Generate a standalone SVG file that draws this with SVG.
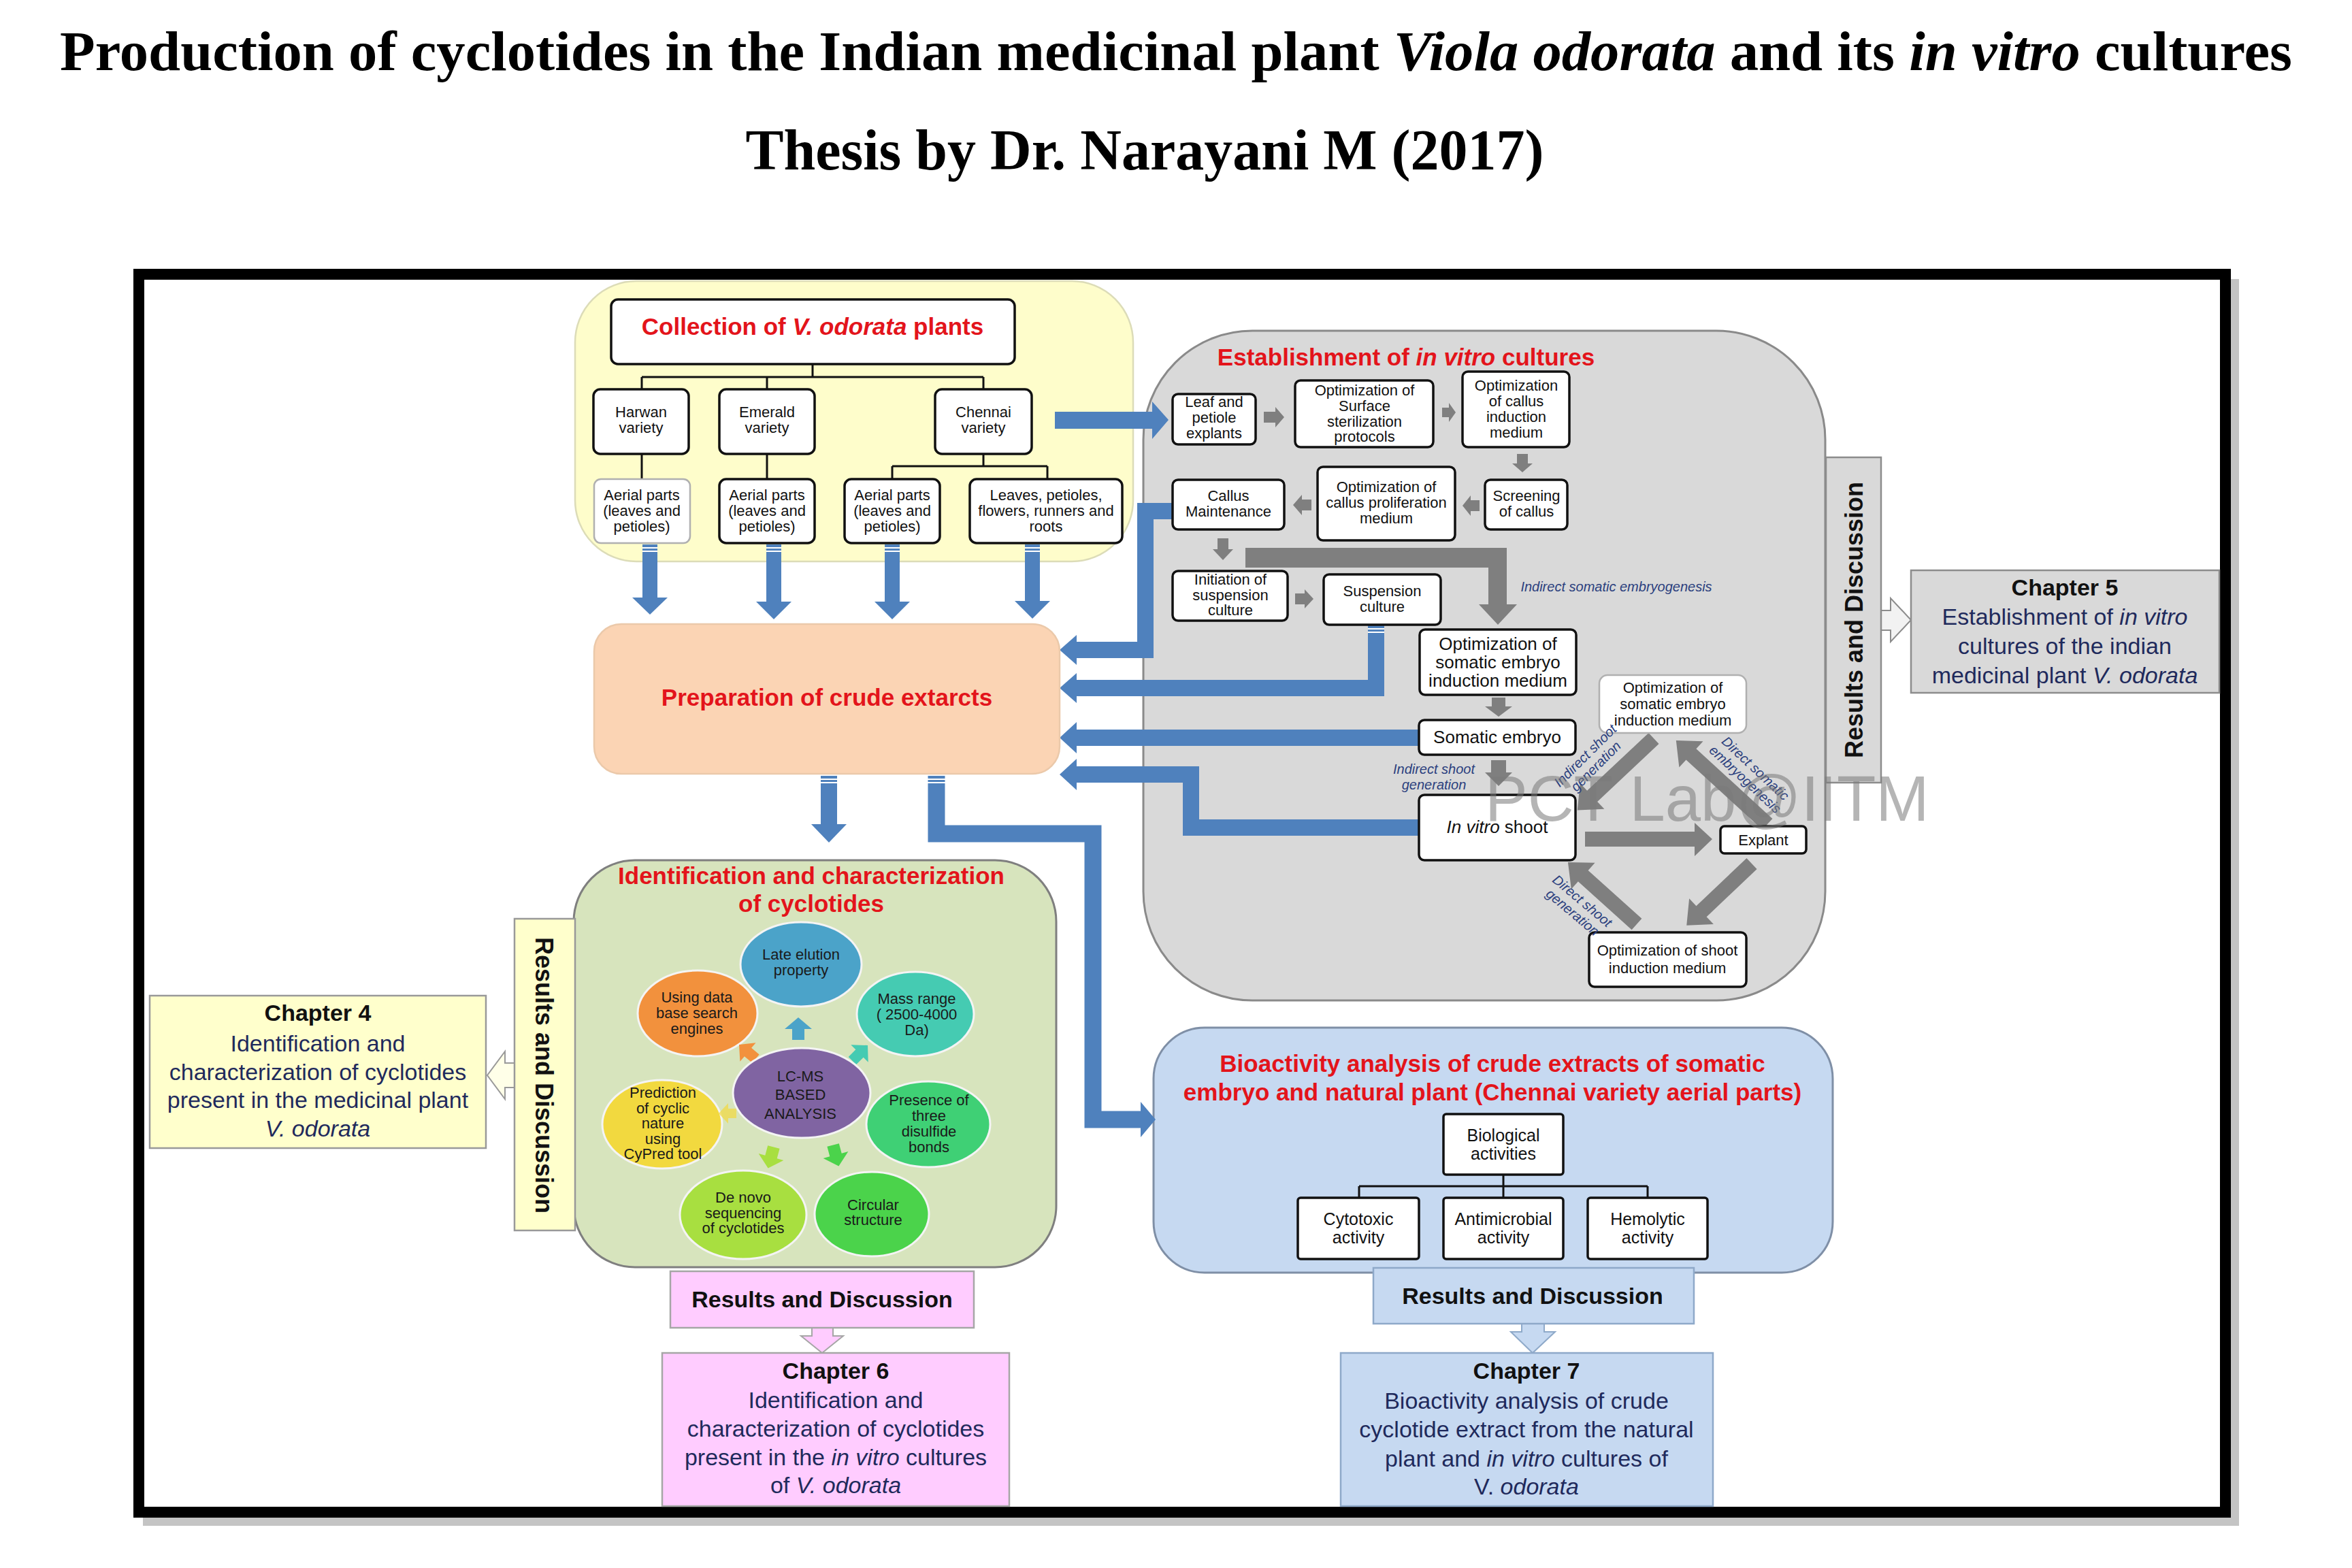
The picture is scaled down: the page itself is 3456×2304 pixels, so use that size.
<svg xmlns="http://www.w3.org/2000/svg" width="3456" height="2304" viewBox="0 0 3456 2304">
<defs>
<style>
text{font-family:"Liberation Sans",Arial,sans-serif}
.ttl{font-family:"Liberation Serif","Times New Roman",serif;font-weight:bold;fill:#000;text-anchor:middle}
.it{font-style:italic}
.hd{font-size:35px;font-weight:bold;fill:#E3141B;text-anchor:middle}
.bx{fill:#fff;stroke:#111;stroke-width:3.5}
.bxl{fill:#fff;stroke:#b0b0b0;stroke-width:2.5}
.t22{font-size:22px;fill:#111;text-anchor:middle}
.t25{font-size:25px;fill:#111;text-anchor:middle}
.t26{font-size:26px;fill:#111;text-anchor:middle}
.lbl{font-size:20px;font-style:italic;fill:#2B3F7E;text-anchor:middle}
.ch{font-size:34px;fill:#1F2A5C;text-anchor:middle}
.chh{font-size:34px;font-weight:bold;fill:#111;text-anchor:middle}
.rd{font-size:36px;font-weight:bold;fill:#111;text-anchor:middle}
.blue{fill:#4F81BD}
.bline{fill:none;stroke:#4F81BD;stroke-width:24;stroke-linejoin:miter}
.gray{fill:#7F7F7F}
.cn{fill:none;stroke:#111;stroke-width:3}
.el{font-size:22px;fill:#1a1a1a;text-anchor:middle}
.strip{stroke:#fff;stroke-width:2}
.elp{stroke:#f4f4f4;stroke-width:3}
</style>
</defs>
<rect x="0" y="0" width="3456" height="2304" fill="#fff"/>

<g id="title">
<text class="ttl" x="1728" y="103" font-size="82" textLength="3280" lengthAdjust="spacingAndGlyphs">Production of cyclotides in the Indian medicinal plant <tspan class="it">Viola odorata</tspan> and its <tspan class="it">in vitro</tspan> cultures</text>
<text class="ttl" x="1682" y="249" font-size="84">Thesis by Dr. Narayani M (2017)</text>
</g>

<g id="frame">
<rect x="3278" y="410" width="12" height="1832" fill="#c4c4c4"/>
<rect x="210" y="2230" width="3080" height="12" fill="#c4c4c4"/>
<rect x="204" y="403" width="3066" height="1819" fill="#fff" stroke="#000" stroke-width="16"/>
</g>

<!-- Panels -->
<g id="panel-collection">
<rect x="845" y="413" width="820" height="412" rx="90" fill="#FEFDCB" stroke="#DCDCB8" stroke-width="2.5"/>
</g>
<g id="panel-invitro">
<rect x="1680" y="486" width="1002" height="984" rx="160" fill="#D9D9D9" stroke="#8A8A8A" stroke-width="3"/>
<text class="hd" x="2066" y="537">Establishment of <tspan class="it">in vitro</tspan> cultures</text>
</g>
<g id="panel-identification">
<rect x="843" y="1264" width="709" height="598" rx="90" fill="#D7E4BD" stroke="#7F7F7F" stroke-width="3"/>
<text class="hd" x="1192" y="1299">Identification and characterization</text>
<text class="hd" x="1192" y="1340">of cyclotides</text>
</g>
<g id="panel-bioactivity">
<rect x="1695" y="1510" width="998" height="360" rx="75" fill="#C6D9F1" stroke="#7F8FA6" stroke-width="3"/>
<text class="hd" x="2193" y="1575">Bioactivity analysis of crude extracts of somatic</text>
<text class="hd" x="2193" y="1617">embryo and natural plant (Chennai variety aerial parts)</text>
</g>

<!-- Connectors -->
<g id="connectors">
<!-- tree lines -->
<path class="cn" d="M1194,535 V554 M943,554 H1445 M943,554 V572 M1127,554 V572 M1445,554 V572 M943,667 V704 M1127,667 V704 M1445,667 V685 M1311,685 H1539 M1311,685 V704 M1539,685 V704"/>
<path class="cn" d="M2209,1726 V1743 M1997,1743 H2421 M1997,1743 V1760 M2209,1743 V1760 M2421,1743 V1760"/>

<!-- blue down arrows from plant parts -->
<polygon class="blue" points="944,800 966,800 966,878 981,878 955,903 929,878 944,878"/>
<polygon class="blue" points="1126,800 1148,800 1148,884 1163,884 1137,910 1111,884 1126,884"/>
<polygon class="blue" points="1300,800 1322,800 1322,884 1337,884 1311,910 1285,884 1300,884"/>
<polygon class="blue" points="1506,800 1528,800 1528,883 1543,883 1517,909 1491,883 1506,883"/>
<path class="strip" d="M944,805 H966 M944,810 H966 M1126,805 H1148 M1126,810 H1148 M1300,805 H1322 M1300,810 H1322 M1506,805 H1528 M1506,810 H1528"/>

<!-- Chennai to explants -->
<polygon class="blue" points="1550,605 1693,605 1693,590 1717,617 1693,645 1693,630 1550,630"/>

<!-- arrows into crude extracts -->
<polyline class="bline" points="1723,751 1683,751 1683,955 1580,955"/>
<polygon class="blue" points="1582,933 1557,955 1582,977"/>
<polyline class="bline" points="2022,919 2022,1011 1580,1011"/>
<polygon class="blue" points="1582,989 1557,1011 1582,1033"/>
<path class="strip" d="M2010,924 H2034 M2010,929 H2034"/>
<polyline class="bline" points="2085,1084 1580,1084"/>
<polygon class="blue" points="1582,1061 1557,1084 1582,1107"/>
<polyline class="bline" points="2085,1216 1750,1216 1750,1138 1580,1138"/>
<polygon class="blue" points="1582,1115 1557,1138 1582,1161"/>

<!-- arrows out of crude extracts -->
<polyline class="bline" points="1218,1140 1218,1213"/>
<polygon class="blue" points="1192,1211 1244,1211 1218,1238"/>
<polyline class="bline" points="1376,1140 1376,1225 1606,1225 1606,1645 1676,1645" style="stroke-width:25"/>
<polygon class="blue" points="1676,1619 1698,1645 1676,1671"/>
<path class="strip" d="M1206,1145 H1230 M1206,1150 H1230 M1363,1145 H1389 M1363,1150 H1389"/>

<!-- gray process arrows -->
<polygon class="gray" points="1857,605 1874,605 1874,598 1887,613 1874,628 1874,621 1857,621"/>
<polygon class="gray" points="2119,599 2129,599 2129,592 2139,606 2129,620 2129,613 2119,613"/>
<polygon class="gray" points="2229,667 2245,667 2245,681 2252,681 2237,694 2222,681 2229,681"/>
<polygon class="gray" points="2174,735 2161,735 2161,728 2149,743 2161,758 2161,751 2174,751"/>
<polygon class="gray" points="1927,734 1913,734 1913,727 1900,742 1913,757 1913,750 1927,750"/>
<polygon class="gray" points="1789,791 1805,791 1805,807 1812,807 1797,823 1782,807 1789,807"/>
<polygon class="gray" points="1903,872 1917,872 1917,866 1930,880 1917,894 1917,888 1903,888"/>
<polygon class="gray" points="1830,805 2214,805 2214,888 2229,888 2201,918 2173,888 2187,888 2187,834 1830,834"/>
<polygon class="gray" points="2192,1025 2212,1025 2212,1038 2222,1038 2202,1053 2182,1038 2192,1038"/>
<polygon class="gray" points="2191,1117 2213,1117 2213,1135 2222,1135 2202,1155 2182,1135 2191,1135"/>
<polygon class="gray" points="2329,1222 2490,1222 2490,1209 2516,1233 2490,1258 2490,1244 2329,1244"/>
<polygon class="gray" transform="translate(2430,1085) rotate(136.8)" points="0,-11 124,-11 124,-26 154,0 124,26 124,11 0,11"/>
<polygon class="gray" transform="translate(2597,1211) rotate(-137.5)" points="0,-11 152,-11 152,-26 182,0 152,26 152,11 0,11"/>
<polygon class="gray" transform="translate(2574,1269) rotate(136.5)" points="0,-11 102,-11 102,-26 132,0 102,26 102,11 0,11"/>
<polygon class="gray" transform="translate(2405,1358) rotate(-138)" points="0,-11 106,-11 106,-26 136,0 106,26 106,11 0,11"/>

<!-- results arrows -->
<polygon points="2764,897 2778,897 2778,879 2808,911 2778,943 2778,926 2764,926" fill="#F2F2F2" stroke="#8C8C8C" stroke-width="2"/>
<polygon points="756,1562 742,1562 742,1545 716,1580 742,1615 742,1598 756,1598" fill="#FFFFE8" stroke="#999" stroke-width="2"/>
<polygon points="1193,1951 1224,1951 1224,1963 1239,1963 1208,1988 1177,1963 1193,1963" fill="#FFCCFF" stroke="#A6A6A6" stroke-width="2"/>
<polygon points="2236,1945 2269,1945 2269,1957 2285,1957 2252,1988 2220,1957 2236,1957" fill="#C6D9F1" stroke="#8EA9C9" stroke-width="2"/>
</g>

<!-- Collection nodes -->
<g id="collection">
<rect class="bx" x="898" y="440" width="593" height="95" rx="10"/>
<text class="hd" x="1194" y="492">Collection of <tspan class="it">V. odorata</tspan> plants</text>
</g>
<g id="harwan"><rect class="bx" x="872" y="572" width="140" height="95" rx="10"/>
<text class="t22" x="942" y="613">Harwan</text><text class="t22" x="942" y="636">variety</text></g>
<g id="emerald"><rect class="bx" x="1057" y="572" width="140" height="95" rx="10"/>
<text class="t22" x="1127" y="613">Emerald</text><text class="t22" x="1127" y="636">variety</text></g>
<g id="chennai"><rect class="bx" x="1374" y="572" width="142" height="95" rx="10"/>
<text class="t22" x="1445" y="613">Chennai</text><text class="t22" x="1445" y="636">variety</text></g>
<g id="aerial1"><rect class="bxl" x="873" y="704" width="141" height="94" rx="10"/>
<text class="t22" x="943" y="735">Aerial parts</text><text class="t22" x="943" y="758">(leaves and</text><text class="t22" x="943" y="781">petioles)</text></g>
<g id="aerial2"><rect class="bx" x="1057" y="704" width="140" height="94" rx="10"/>
<text class="t22" x="1127" y="735">Aerial parts</text><text class="t22" x="1127" y="758">(leaves and</text><text class="t22" x="1127" y="781">petioles)</text></g>
<g id="aerial3"><rect class="bx" x="1241" y="704" width="140" height="94" rx="10"/>
<text class="t22" x="1311" y="735">Aerial parts</text><text class="t22" x="1311" y="758">(leaves and</text><text class="t22" x="1311" y="781">petioles)</text></g>
<g id="leaves"><rect class="bx" x="1425" y="704" width="224" height="94" rx="10"/>
<text class="t22" x="1537" y="735">Leaves, petioles,</text><text class="t22" x="1537" y="758">flowers, runners and</text><text class="t22" x="1537" y="781">roots</text></g>

<!-- Crude extracts -->
<g id="crude">
<rect x="873" y="917" width="684" height="220" rx="40" fill="#FBD4B4" stroke="#EBC9AA" stroke-width="2.5"/>
<text class="hd" x="1215" y="1037">Preparation of crude extarcts</text>
</g>

<!-- In vitro nodes -->
<g id="leaf-explants"><rect class="bx" x="1723" y="579" width="122" height="74" rx="8"/>
<text class="t22" x="1784" y="598">Leaf and</text><text class="t22" x="1784" y="621">petiole</text><text class="t22" x="1784" y="644">explants</text></g>
<g id="surface"><rect class="bx" x="1903" y="559" width="203" height="98" rx="8"/>
<text class="t22" x="2005" y="581">Optimization of</text><text class="t22" x="2005" y="604">Surface</text><text class="t22" x="2005" y="627">sterilization</text><text class="t22" x="2005" y="649">protocols</text></g>
<g id="callus-induction"><rect class="bx" x="2149" y="546" width="157" height="111" rx="8"/>
<text class="t22" x="2228" y="574">Optimization</text><text class="t22" x="2228" y="597">of callus</text><text class="t22" x="2228" y="620">induction</text><text class="t22" x="2228" y="643">medium</text></g>
<g id="screening"><rect class="bx" x="2182" y="705" width="121" height="73" rx="8"/>
<text class="t22" x="2243" y="736">Screening</text><text class="t22" x="2243" y="759">of callus</text></g>
<g id="proliferation"><rect class="bx" x="1936" y="686" width="202" height="108" rx="8"/>
<text class="t22" x="2037" y="723">Optimization of</text><text class="t22" x="2037" y="746">callus proliferation</text><text class="t22" x="2037" y="769">medium</text></g>
<g id="maintenance"><rect class="bx" x="1723" y="705" width="164" height="73" rx="8"/>
<text class="t22" x="1805" y="736">Callus</text><text class="t22" x="1805" y="759">Maintenance</text></g>
<g id="initiation"><rect class="bx" x="1723" y="839" width="169" height="73" rx="8"/>
<text class="t22" x="1808" y="859">Initiation of</text><text class="t22" x="1808" y="882">suspension</text><text class="t22" x="1808" y="904">culture</text></g>
<g id="suspension"><rect class="bx" x="1945" y="844" width="172" height="74" rx="8"/>
<text class="t22" x="2031" y="876">Suspension</text><text class="t22" x="2031" y="899">culture</text></g>
<text class="lbl" x="2375" y="869" font-size="22">Indirect somatic embryogenesis</text>
<g id="se-induction"><rect class="bx" x="2086" y="925" width="230" height="96" rx="8"/>
<text class="t26" x="2201" y="955">Optimization of</text><text class="t26" x="2201" y="982">somatic embryo</text><text class="t26" x="2201" y="1009">induction medium</text></g>
<g id="somatic-embryo"><rect class="bx" x="2085" y="1058" width="230" height="51" rx="8"/>
<text class="t26" x="2200" y="1092">Somatic embryo</text></g>
<text class="lbl" x="2107" y="1137">Indirect shoot</text>
<text class="lbl" x="2107" y="1160">generation</text>
<g id="in-vitro-shoot"><rect class="bx" x="2085" y="1168" width="230" height="96" rx="8"/>
<text class="t26" x="2200" y="1224"><tspan class="it">In vitro</tspan> shoot</text></g>
<g id="se-induction-2"><rect class="bxl" x="2350" y="992" width="216" height="85" rx="12"/>
<text class="t22" x="2458" y="1018">Optimization of</text><text class="t22" x="2458" y="1042">somatic embryo</text><text class="t22" x="2458" y="1066">induction medium</text></g>
<g id="explant"><rect class="bx" x="2528" y="1214" width="126" height="40" rx="6"/>
<text class="t22" x="2591" y="1242" font-size="23">Explant</text></g>
<g id="shoot-induction"><rect class="bx" x="2335" y="1370" width="231" height="80" rx="8"/>
<text class="t22" x="2450" y="1404">Optimization of shoot</text><text class="t22" x="2450" y="1430">induction medium</text></g>
<g transform="translate(2337,1118) rotate(-45)"><text class="lbl" x="0" y="-4">Indirect shoot</text><text class="lbl" x="0" y="18">generation</text></g>
<g transform="translate(2572,1137) rotate(43)"><text class="lbl" x="0" y="-4">Direct somatic</text><text class="lbl" x="0" y="18">embryogenesis</text></g>
<g transform="translate(2318,1332) rotate(40)"><text class="lbl" x="0" y="-4">Direct shoot</text><text class="lbl" x="0" y="18">generation</text></g>

<!-- Results / chapter 5 -->
<g id="results-invitro">
<rect x="2683" y="672" width="81" height="478" fill="#D9D9D9" stroke="#8C8C8C" stroke-width="2.5"/>
<text class="rd" transform="translate(2737,911) rotate(-90)">Results and Discussion</text>
</g>
<g id="chapter5">
<rect x="2808" y="838" width="453" height="180" fill="#D9D9D9" stroke="#8C8C8C" stroke-width="2.5"/>
<text class="chh" x="3034" y="875">Chapter 5</text>
<text class="ch" x="3034" y="918">Establishment of <tspan class="it">in vitro</tspan></text>
<text class="ch" x="3034" y="961">cultures of the indian</text>
<text class="ch" x="3034" y="1004">medicinal plant <tspan class="it">V. odorata</tspan></text>
</g>

<!-- Identification ellipses -->
<g id="ellipses">
<g id="late-elution"><ellipse class="elp" cx="1177" cy="1417" rx="89" ry="62" fill="#4BA3C9"/>
<text class="el" x="1177" y="1410">Late elution</text><text class="el" x="1177" y="1433">property</text></g>
<g id="database"><ellipse class="elp" cx="1025" cy="1489" rx="88" ry="63" fill="#F2913D"/>
<text class="el" x="1024" y="1473">Using data</text><text class="el" x="1024" y="1496">base search</text><text class="el" x="1024" y="1519">engines</text></g>
<g id="mass-range"><ellipse class="elp" cx="1345" cy="1490" rx="86" ry="62" fill="#45CBB2"/>
<text class="el" x="1347" y="1475">Mass range</text><text class="el" x="1347" y="1498">( 2500-4000</text><text class="el" x="1347" y="1521">Da)</text></g>
<g id="prediction"><ellipse class="elp" cx="973" cy="1652" rx="88" ry="65" fill="#F2D93F"/>
<text class="el" x="974" y="1613" font-size="21">Prediction</text><text class="el" x="974" y="1636" font-size="21">of cyclic</text><text class="el" x="974" y="1658" font-size="21">nature</text><text class="el" x="974" y="1681" font-size="21">using</text><text class="el" x="974" y="1703" font-size="21">CyPred tool</text></g>
<g id="disulfide"><ellipse class="elp" cx="1364" cy="1652" rx="91" ry="63" fill="#3FD075"/>
<text class="el" x="1365" y="1624">Presence of</text><text class="el" x="1365" y="1647">three</text><text class="el" x="1365" y="1670">disulfide</text><text class="el" x="1365" y="1693">bonds</text></g>
<g id="de-novo"><ellipse class="elp" cx="1092" cy="1785" rx="93" ry="65" fill="#A8DF40"/>
<text class="el" x="1092" y="1767">De novo</text><text class="el" x="1092" y="1790">sequencing</text><text class="el" x="1092" y="1812">of cyclotides</text></g>
<g id="circular"><ellipse class="elp" cx="1281" cy="1784" rx="84" ry="62" fill="#4BD34B"/>
<text class="el" x="1283" y="1778">Circular</text><text class="el" x="1283" y="1800">structure</text></g>
<polygon transform="translate(1173,1512)" points="0,-17 20,0 9,0 9,16 -9,16 -9,0 -20,0" fill="#4BA3C9"/>
<polygon transform="translate(1099,1546) rotate(-50)" points="0,-17 18,0 8,0 8,15 -8,15 -8,0 -18,0" fill="#F2913D"/>
<polygon transform="translate(1263,1548) rotate(45)" points="0,-17 18,0 8,0 8,15 -8,15 -8,0 -18,0" fill="#45CBB2"/>
<polygon transform="translate(1070,1636) rotate(-90)" points="0,-14 15,0 7,0 7,12 -7,12 -7,0 -15,0" fill="#F2D93F" opacity="0.7"/>
<polygon transform="translate(1133,1700) rotate(195)" points="0,-17 19,0 9,0 9,15 -9,15 -9,0 -19,0" fill="#A8DF40"/>
<polygon transform="translate(1228,1697) rotate(165)" points="0,-17 19,0 9,0 9,15 -9,15 -9,0 -19,0" fill="#4BD34B"/>
<g id="lcms"><ellipse class="elp" cx="1178" cy="1606" rx="101" ry="66" fill="#8064A2"/>
<text class="el" x="1176" y="1589" font-size="27">LC-MS</text><text class="el" x="1176" y="1616" font-size="27">BASED</text><text class="el" x="1176" y="1644" font-size="27">ANALYSIS</text></g>
</g>

<!-- Results / chapter 4 -->
<g id="results-ident">
<rect x="756" y="1350" width="89" height="458" fill="#FFFFCC" stroke="#999" stroke-width="2.5"/>
<text class="rd" transform="translate(787,1580) rotate(90)">Results and Discussion</text>
</g>
<g id="chapter4">
<rect x="220" y="1463" width="494" height="224" fill="#FFFFCC" stroke="#999" stroke-width="2.5"/>
<text class="chh" x="467" y="1500">Chapter 4</text>
<text class="ch" x="467" y="1545">Identification and</text>
<text class="ch" x="467" y="1587">characterization of  cyclotides</text>
<text class="ch" x="467" y="1628">present in the medicinal plant</text>
<text class="ch it" x="467" y="1670">V. odorata</text>
</g>

<!-- Results / chapter 6 -->
<g id="results-ch6">
<rect x="985" y="1868" width="446" height="83" fill="#FFCCFF" stroke="#A6A6A6" stroke-width="2.5"/>
<text class="chh" x="1208" y="1921" font-size="35">Results and Discussion</text>
</g>
<g id="chapter6">
<rect x="973" y="1988" width="510" height="225" fill="#FFCCFF" stroke="#A6A6A6" stroke-width="2.5"/>
<text class="chh" x="1228" y="2026">Chapter 6</text>
<text class="ch" x="1228" y="2069">Identification and</text>
<text class="ch" x="1228" y="2111">characterization of  cyclotides</text>
<text class="ch" x="1228" y="2153">present in the <tspan class="it">in vitro</tspan> cultures</text>
<text class="ch" x="1228" y="2194">of <tspan class="it">V. odorata</tspan></text>
</g>

<!-- Bioactivity nodes -->
<g id="biological"><rect class="bx" x="2121" y="1637" width="176" height="89" rx="4"/>
<text class="t25" x="2209" y="1677">Biological</text><text class="t25" x="2209" y="1704">activities</text></g>
<g id="cytotoxic"><rect class="bx" x="1907" y="1760" width="178" height="90" rx="4"/>
<text class="t25" x="1996" y="1800">Cytotoxic</text><text class="t25" x="1996" y="1827">activity</text></g>
<g id="antimicrobial"><rect class="bx" x="2121" y="1760" width="176" height="90" rx="4"/>
<text class="t25" x="2209" y="1800">Antimicrobial</text><text class="t25" x="2209" y="1827">activity</text></g>
<g id="hemolytic"><rect class="bx" x="2333" y="1760" width="176" height="90" rx="4"/>
<text class="t25" x="2421" y="1800">Hemolytic</text><text class="t25" x="2421" y="1827">activity</text></g>

<!-- Results / chapter 7 -->
<g id="results-ch7">
<rect x="2018" y="1863" width="471" height="82" fill="#C6D9F1" stroke="#8EA9C9" stroke-width="2.5"/>
<text class="chh" x="2252" y="1916" font-size="35">Results and Discussion</text>
</g>
<g id="chapter7">
<rect x="1970" y="1988" width="547" height="225" fill="#C6D9F1" stroke="#8EA9C9" stroke-width="2.5"/>
<text class="chh" x="2243" y="2026">Chapter 7</text>
<text class="ch" x="2243" y="2070">Bioactivity analysis of crude</text>
<text class="ch" x="2243" y="2112">cyclotide extract from the natural</text>
<text class="ch" x="2243" y="2155">plant and <tspan class="it">in vitro</tspan> cultures of</text>
<text class="ch" x="2243" y="2196">V. <tspan class="it">odorata</tspan></text>
</g>

<!-- watermark -->
<text x="2182" y="1206" font-size="94" fill="#7A7A7A" opacity="0.55">PCT Lab@IITM</text>
</svg>
